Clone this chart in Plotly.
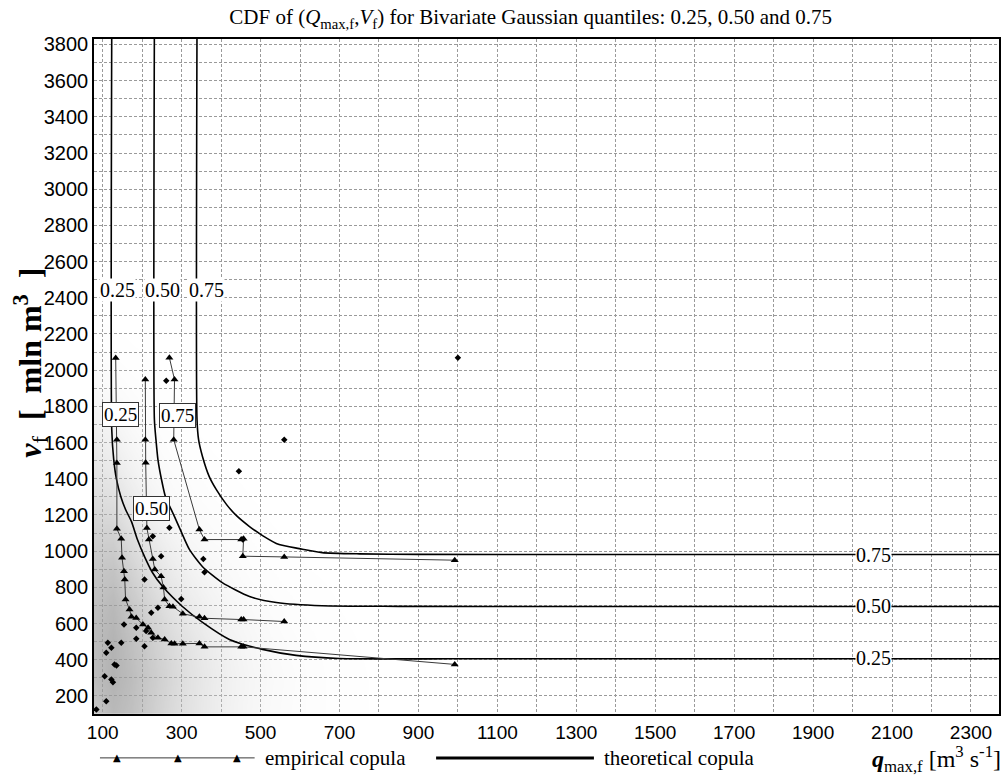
import plotly.graph_objects as go

# ---------------- data ----------------
# theoretical copula contours (Bivariate Gaussian), q in m3/s, v in mln m3
theo25_q = [123, 123, 128, 135, 146, 158, 173, 188, 206, 226, 252, 302, 353, 421, 505, 590, 699, 1000, 2400]
theo25_v = [3900, 1671, 1506, 1396, 1301, 1230, 1163, 1064, 970, 882, 804, 694, 606, 512, 457, 424, 407, 405, 405]
theo50_q = [231, 231, 235, 240, 249, 259, 282, 300, 320, 353, 403, 472, 540, 656, 851, 1300, 2400]
theo50_v = [3900, 1727, 1616, 1506, 1396, 1301, 1191, 1102, 1008, 914, 826, 749, 716, 698, 695, 694, 694]
theo75_q = [339, 339, 343, 353, 370, 388, 414, 439, 472, 505, 547, 598, 656, 750, 900, 1300, 2400]
theo75_v = [3900, 1727, 1616, 1522, 1412, 1340, 1257, 1196, 1136, 1086, 1036, 1014, 992, 985, 982, 981, 981]

# empirical copula contours
emp25_q = [133, 136, 136, 136, 147, 149, 154, 156, 158, 168, 173, 185, 202, 215, 223, 240, 257, 274, 282, 303, 345, 358, 451, 457, 992]
emp25_v = [2067, 1616, 1487, 1123, 1068, 963, 889, 843, 733, 677, 637, 631, 594, 576, 549, 521, 512, 490, 488, 488, 490, 471, 471, 471, 374]
emp50_q = [208, 208, 209, 212, 217, 227, 232, 248, 254, 257, 269, 278, 303, 345, 358, 451, 457, 560]
emp50_v = [1948, 1616, 1489, 1128, 1064, 957, 898, 861, 799, 733, 696, 693, 654, 637, 629, 622, 622, 611]
emp75_q = [269, 282, 280, 345, 358, 451, 457, 455, 560, 992]
emp75_v = [2069, 1948, 1616, 1119, 1064, 1064, 1069, 972, 968, 950]

# observed flood events
obs_q = [261, 560, 445, 269, 227, 455, 248, 206, 299, 240, 223, 355, 358, 154, 185, 113, 122, 147,
         185, 206, 130, 135, 105, 122, 126, 210, 227, 109, 109, 84, 1000]
obs_v = [1942, 1616, 1441, 1129, 1082, 1064, 972, 843, 736, 687, 659, 957, 883, 595, 576, 494, 466, 494,
         516, 475, 373, 368, 309, 291, 276, 558, 521, 438, 171, 125, 2069]

# density of the simulated sample cloud (relative darkness, read by eye)
dens_q = [75, 125, 175, 225, 275, 325, 375, 425, 475, 525, 575, 625, 675, 725, 775, 850, 950, 1050, 1200]
dens_v = [100, 300, 500, 700, 900, 1100, 1300, 1500, 1700, 1900, 2100, 2300]
dens_z = [
    [.65, .72, .68, .60, .52, .45, .38, .31, .25, .20, .16, .13, .10, .08, .06, .04, .03, .02, 0],
    [.70, .75, .70, .62, .54, .46, .39, .32, .26, .21, .17, .13, .10, .08, .06, .04, .03, .02, 0],
    [.70, .75, .68, .60, .52, .44, .37, .30, .24, .19, .15, .12, .09, .07, .05, .035, .02, .01, 0],
    [.68, .72, .64, .55, .46, .38, .31, .25, .20, .15, .12, .09, .07, .05, .04, .03, .02, .01, 0],
    [.64, .66, .57, .47, .38, .30, .24, .19, .14, .11, .08, .06, .05, .04, .03, .02, .01, 0, 0],
    [.58, .58, .48, .38, .29, .22, .17, .13, .10, .07, .05, .04, .03, .02, .02, .01, 0, 0, 0],
    [.50, .48, .38, .28, .20, .15, .11, .08, .06, .04, .03, .02, .02, .01, .01, 0, 0, 0, 0],
    [.42, .38, .29, .20, .14, .10, .07, .05, .04, .03, .02, .01, .01, 0, 0, 0, 0, 0, 0],
    [.32, .28, .20, .14, .09, .06, .04, .03, .02, .02, .01, .01, 0, 0, 0, 0, 0, 0, 0],
    [.22, .18, .13, .09, .06, .04, .03, .02, .01, .01, 0, 0, 0, 0, 0, 0, 0, 0, 0],
    [.13, .10, .07, .05, .03, .02, .01, .01, 0, 0, 0, 0, 0, 0, 0, 0, 0, 0, 0],
    [.06, .04, .03, .02, .01, 0, 0, 0, 0, 0, 0, 0, 0, 0, 0, 0, 0, 0, 0],
]

# contour label positions
top_lab_text = ["0.25", "0.50", "0.75"]
top_lab_q = [137, 252, 363]
top_lab_v = [2444, 2444, 2444]
right_lab_text = ["0.25", "0.50", "0.75"]
right_lab_q = [2052, 2052, 2052]
right_lab_v = [407, 696, 981]
box_lab_text = ["0.25", "0.50", "0.75"]
box_lab_q = [146, 223, 290]
box_lab_v = [1754, 1235, 1748]

x_ticks = list(range(100, 2400, 200))
y_ticks = list(range(200, 3900, 200))

SERIF = "Liberation Serif, Times New Roman, serif"
SANS = "Liberation Sans, Arial, sans-serif"

fig = go.Figure()

fig.add_trace(go.Heatmap(
    x=dens_q, y=dens_v, z=dens_z, zmin=0, zmax=1, zsmooth="best",
    colorscale=[[0, "rgba(255,255,255,0)"], [1, "rgba(120,120,120,1)"]],
    showscale=False, hoverinfo="skip"))

for q, v in [(theo25_q, theo25_v), (theo50_q, theo50_v), (theo75_q, theo75_v)]:
    fig.add_trace(go.Scatter(x=q, y=v, mode="lines",
                             line=dict(color="black", width=1.6, shape="spline", smoothing=0.6),
                             showlegend=False, hoverinfo="skip"))

for q, v in [(emp25_q, emp25_v), (emp50_q, emp50_v), (emp75_q, emp75_v)]:
    fig.add_trace(go.Scatter(x=q, y=v, mode="lines+markers",
                             line=dict(color="#3a3a3a", width=1),
                             marker=dict(symbol="triangle-up", size=7, color="black"),
                             showlegend=False, hoverinfo="skip"))

fig.add_trace(go.Scatter(x=obs_q, y=obs_v, mode="markers",
                         marker=dict(symbol="diamond", size=5, color="black"),
                         showlegend=False, hoverinfo="skip"))

annotations = []
for t, q, v in zip(top_lab_text, top_lab_q, top_lab_v):
    annotations.append(dict(x=q, y=v, xref="x", yref="y", text=t, showarrow=False,
                            font=dict(family=SERIF, size=20, color="black"),
                            bgcolor="white", borderpad=0))
for t, q, v in zip(right_lab_text, right_lab_q, right_lab_v):
    annotations.append(dict(x=q, y=v, xref="x", yref="y", text=t, showarrow=False,
                            font=dict(family=SERIF, size=20, color="black"),
                            bgcolor="white", borderpad=0))
for t, q, v in zip(box_lab_text, box_lab_q, box_lab_v):
    annotations.append(dict(x=q, y=v, xref="x", yref="y", text=t, showarrow=False,
                            font=dict(family=SERIF, size=19, color="black"),
                            bgcolor="white", bordercolor="#333", borderwidth=1, borderpad=1))

# axis titles
annotations.append(dict(x=-0.071, y=0.52, xref="paper", yref="paper", textangle=-90,
                        text="<b><i>v</i></b><sub>f</sub>&nbsp;&nbsp;<b>[&nbsp;&nbsp;mln m<sup>3</sup>&nbsp;&nbsp;]</b>",
                        showarrow=False, xanchor="center", yanchor="middle",
                        font=dict(family=SERIF, size=32, color="black")))
annotations.append(dict(x=1.004, y=-0.066, xref="paper", yref="paper", xanchor="right", yanchor="middle",
                        text="<b><i>q</i></b><sub>max,f</sub> [m<sup>3</sup> s<sup>-1</sup>]",
                        showarrow=False, font=dict(family=SERIF, size=24, color="black")))

# legend (drawn)
leg_y = -0.065
for xp in [0.0254, 0.0926, 0.1577]:
    annotations.append(dict(x=xp, y=leg_y, xref="paper", yref="paper", text="▲", showarrow=False,
                            font=dict(family="DejaVu Sans", size=10, color="black"),
                            xanchor="center", yanchor="middle"))
annotations.append(dict(x=0.1863, y=leg_y, xref="paper", yref="paper", text="empirical copula",
                        showarrow=False, xanchor="left", yanchor="middle",
                        font=dict(family=SERIF, size=21, color="black")))
annotations.append(dict(x=0.5612, y=leg_y, xref="paper", yref="paper", text="theoretical copula",
                        showarrow=False, xanchor="left", yanchor="middle",
                        font=dict(family=SERIF, size=21, color="black")))

shapes = [
    dict(type="line", xref="paper", yref="paper", x0=0.0066, x1=0.1775, y0=leg_y, y1=leg_y,
         line=dict(color="#3a3a3a", width=1)),
    dict(type="line", xref="paper", yref="paper", x0=0.378, x1=0.5524, y0=leg_y, y1=leg_y,
         line=dict(color="black", width=3)),
]

grid = dict(showgrid=True, gridcolor="#9a9a9a", griddash="3px,2px", gridwidth=1)

fig.update_layout(
    width=1007, height=779,
    margin=dict(l=94, r=6, t=39, b=65),
    paper_bgcolor="white", plot_bgcolor="white",
    title=dict(text="CDF of (<i>Q</i><sub>max,f</sub>,<i>V</i><sub>f</sub>) for Bivariate Gaussian quantiles: 0.25, 0.50 and 0.75",
               x=0.527, xref="container", xanchor="center", y=0.978, yanchor="middle",
               font=dict(family=SERIF, size=21, color="black")),
    xaxis=dict(range=[78, 2371], tickmode="array", tickvals=x_ticks, ticktext=[str(t) for t in x_ticks],
               showline=True, linecolor="black", linewidth=1.5, mirror=True, ticks="",
               tickfont=dict(family=SANS, size=19, color="black"), zeroline=False,
               minor=dict(dtick=100, tick0=0, showgrid=True, gridcolor="#9a9a9a", griddash="3px,2px", gridwidth=1),
               **grid),
    yaxis=dict(range=[100, 3830], tickmode="array", tickvals=y_ticks, ticktext=[str(t) for t in y_ticks],
               showline=True, linecolor="black", linewidth=1.5, mirror=True, ticks="",
               tickfont=dict(family=SANS, size=20, color="black"), zeroline=False,
               minor=dict(dtick=100, tick0=0, showgrid=True, gridcolor="#9a9a9a", griddash="3px,2px", gridwidth=1),
               **grid),
    annotations=annotations, shapes=shapes, showlegend=False,
)

fig.write_html("out.html")
